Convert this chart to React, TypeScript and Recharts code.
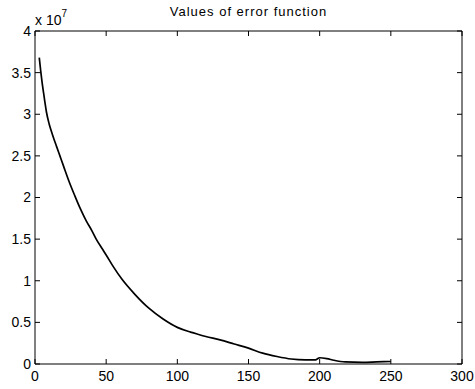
import React from 'react';
import { LineChart, Line, XAxis, YAxis } from 'recharts';

// iteration number
const iterations = [
  3, 4, 5, 6, 7, 8, 10, 12, 15, 17.5, 20, 24, 28, 32, 36, 40, 43, 47, 50, 55, 61, 70, 80, 90, 100, 108,
  110, 120, 130, 140, 150, 160, 170, 180, 190, 197, 200, 205, 210, 218, 230, 240, 250,
];

// error value, in units of 1e7
const errorValues = [
  3.68, 3.52, 3.38, 3.26, 3.14, 3.03, 2.88, 2.77, 2.62, 2.5, 2.38, 2.19, 2.02, 1.86, 1.72, 1.6, 1.5, 1.39, 1.31,
  1.17, 1.02, 0.84, 0.67, 0.54, 0.44, 0.39,
  0.38, 0.33, 0.29, 0.24, 0.19, 0.13, 0.09, 0.06, 0.05, 0.05, 0.075, 0.065, 0.045, 0.025, 0.02, 0.025, 0.03,
];

const xTicks = [0, 50, 100, 150, 200, 250, 300];
const yTicks = [0, 0.5, 1, 1.5, 2, 2.5, 3, 3.5, 4];

const data = iterations.map((it, i) => ({ it, err: errorValues[i] }));

const font = 'Arial, "Liberation Sans", sans-serif';
const tickStyle = { fill: '#000', fontSize: 14, fontFamily: font };
const blank = () => '';

const App: React.FC = () => {
  return (
    <div style={{ position: 'absolute', left: 0, top: 0, width: 475, height: 389, background: '#fff' }}>
      <LineChart width={475} height={389} data={data} margin={{ top: 30, right: 12, left: 0, bottom: 0 }}>
        <XAxis
          dataKey="it"
          type="number"
          domain={[0, 300]}
          ticks={xTicks}
          height={25}
          stroke="#000"
          tickSize={-5}
          tickMargin={12}
          tick={tickStyle}
          interval={0}
        />
        <XAxis
          xAxisId="top"
          dataKey="it"
          type="number"
          orientation="top"
          domain={[0, 300]}
          ticks={xTicks}
          height={1}
          stroke="#000"
          tickSize={-5}
          tickFormatter={blank}
          interval={0}
        />
        <YAxis
          type="number"
          domain={[0, 4]}
          ticks={yTicks}
          width={35}
          stroke="#000"
          tickSize={-5}
          tickMargin={9}
          tick={tickStyle}
          interval={0}
        />
        <YAxis
          yAxisId="right"
          type="number"
          orientation="right"
          domain={[0, 4]}
          ticks={yTicks}
          width={1}
          stroke="#000"
          tickSize={-5}
          tickFormatter={blank}
          interval={0}
        />
        <Line
          dataKey="err"
          type="monotone"
          stroke="#000"
          strokeWidth={1.7}
          dot={false}
          isAnimationActive={false}
        />
        <Line
          xAxisId="top"
          yAxisId="right"
          dataKey="err"
          stroke="none"
          dot={false}
          legendType="none"
          isAnimationActive={false}
        />
      </LineChart>
      <div
        style={{
          position: 'absolute',
          left: 0,
          width: 497,
          top: 4,
          textAlign: 'center',
          fontFamily: font,
          fontSize: 13,
          letterSpacing: 1,
          color: '#000',
        }}
      >
        Values of error function
      </div>
      <div style={{ position: 'absolute', left: 35, top: 10, fontFamily: font, fontSize: 14, color: '#000' }}>
        x 10<sup style={{ fontSize: 10, position: 'relative', top: -2 }}>7</sup>
      </div>
    </div>
  );
};

export default App;
